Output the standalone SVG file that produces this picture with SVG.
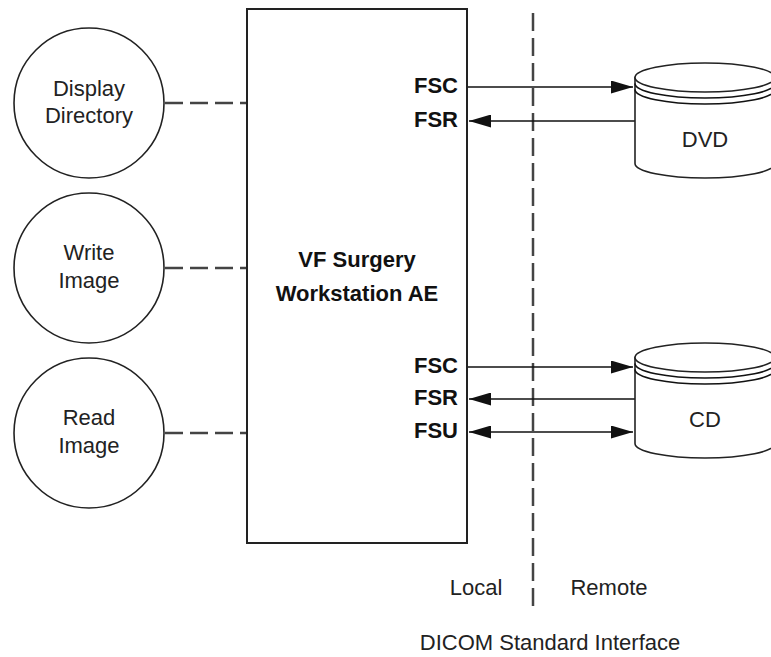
<svg xmlns="http://www.w3.org/2000/svg" width="771" height="657" viewBox="0 0 771 657">
<style>
text{font-family:"Liberation Sans",Arial,sans-serif;font-size:22px;fill:#222}
.c{text-anchor:middle}
.b{font-weight:bold;fill:#111}
.e{text-anchor:end}
.shape{fill:#fff;stroke:#222;stroke-width:1.6}
.dash{stroke:#444;stroke-width:2.5;stroke-dasharray:18 7;fill:none}
.arr{stroke:#111;stroke-width:1.6;fill:none}
</style>
<defs>
<marker id="ah" viewBox="0 0 22 13" refX="22" refY="6.5" markerWidth="22" markerHeight="13" markerUnits="userSpaceOnUse" orient="auto-start-reverse">
<path d="M0,0 L22,6.5 L0,13 z" fill="#111"/>
</marker>
</defs>
<rect width="771" height="657" fill="#fff"/>
<g id="connectors">
<line class="dash" x1="533" y1="13" x2="533" y2="606"/>
<line class="dash" x1="165" y1="103" x2="246" y2="103"/>
<line class="dash" x1="165" y1="268" x2="246" y2="268"/>
<line class="dash" x1="165" y1="433" x2="246" y2="433"/>
<line class="arr" x1="467" y1="87" x2="633" y2="87" marker-end="url(#ah)"/>
<line class="arr" x1="635" y1="121" x2="469" y2="121" marker-end="url(#ah)"/>
<line class="arr" x1="467" y1="367" x2="633" y2="367" marker-end="url(#ah)"/>
<line class="arr" x1="635" y1="399" x2="469" y2="399" marker-end="url(#ah)"/>
<line class="arr" x1="469" y1="432" x2="633" y2="432" marker-start="url(#ah)" marker-end="url(#ah)"/>
</g>
<g id="display-directory">
<circle class="shape" cx="89" cy="103" r="75"/>
<text class="c" x="89" y="96">Display</text>
<text class="c" x="89" y="123">Directory</text>
</g>
<g id="write-image">
<circle class="shape" cx="89" cy="268" r="75"/>
<text class="c" x="89" y="260">Write</text>
<text class="c" x="89" y="288">Image</text>
</g>
<g id="read-image">
<circle class="shape" cx="89" cy="433" r="75"/>
<text class="c" x="89" y="425">Read</text>
<text class="c" x="89" y="453">Image</text>
</g>
<g id="workstation">
<rect x="247" y="9" width="220" height="534" fill="#fff" stroke="#222" stroke-width="2"/>
<text class="c b" x="357" y="267">VF Surgery</text>
<text class="c b" x="357" y="301">Workstation AE</text>
<text class="e b" x="458" y="93">FSC</text>
<text class="e b" x="458" y="127">FSR</text>
<text class="e b" x="458" y="373">FSC</text>
<text class="e b" x="458" y="405">FSR</text>
<text class="e b" x="458" y="438">FSU</text>
</g>
<g id="dvd">
<path class="shape" d="M635,77.5 V163.5 A70,14.5 0 0 0 775,163.5 V77.5 Z"/>
<ellipse class="shape" cx="705" cy="77.5" rx="70" ry="14.5"/>
<path class="arr" d="M635,83.5 A70,14.5 0 0 0 775,83.5 M635,89.5 A70,14.5 0 0 0 775,89.5"/>
<text class="c" x="705" y="147">DVD</text>
</g>
<g id="cd">
<path class="shape" d="M635,357.5 V443.5 A70,14.5 0 0 0 775,443.5 V357.5 Z"/>
<ellipse class="shape" cx="705" cy="357.5" rx="70" ry="14.5"/>
<path class="arr" d="M635,363.5 A70,14.5 0 0 0 775,363.5 M635,369.5 A70,14.5 0 0 0 775,369.5"/>
<text class="c" x="705" y="427">CD</text>
</g>
<g id="labels">
<text class="c" x="476" y="595">Local</text>
<text class="c" x="609" y="595">Remote</text>
<text class="c" x="550" y="650">DICOM Standard Interface</text>
</g>
</svg>
